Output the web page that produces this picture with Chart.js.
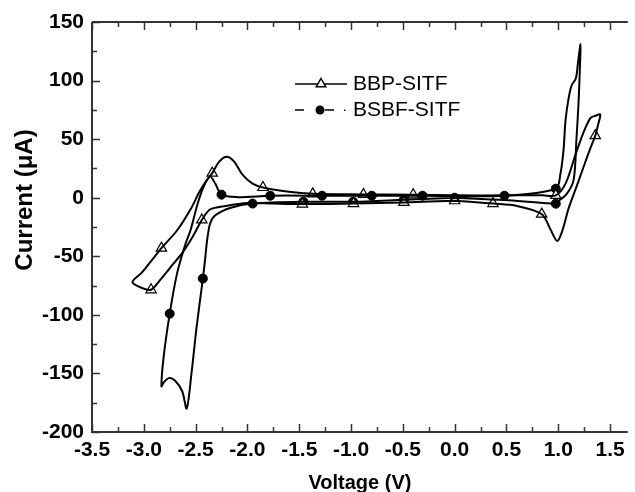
<!DOCTYPE html>
<html>
<head>
<meta charset="utf-8">
<script src="https://cdn.jsdelivr.net/npm/chart.js@4"></script>
<style>
  html, body { margin: 0; padding: 0; background: #fff; }
  #wrap { width: 635px; height: 492px; }
</style>
</head>
<body>
<div id="wrap"><canvas id="cv" width="635" height="492"></canvas></div>
<script>
// ── Data ────────────────────────────────────────────────────

const seriesNames = ['BBP-SITF', 'BSBF-SITF'];

// BBP-SITF cyclic scan (closed loop, starts and ends at 0 V)
const bbpVoltage = [
  0, -0.49, -0.976, -1.47, -1.75, -2.0, -2.21, -2.36, -2.44, -2.52, -2.62, -2.72, -2.84, -2.93,
  -3.02, -3.11, -3.02, -2.92, -2.83, -2.68, -2.54, -2.47, -2.40, -2.34, -2.27, -2.20, -2.13,
  -2.05, -1.95, -1.85, -1.6, -1.37, -0.88, -0.40, 0, 0.5, 0.85, 0.976, 1.07, 1.167, 1.24, 1.31,
  1.36, 1.405, 1.386, 1.357, 1.30, 1.243, 1.17, 1.10, 1.04, 0.99, 0.93, 0.84, 0.6, 0.37, 0.15, 0,
];
const bbpCurrent = [
  -2.6, -4, -5, -5.4, -5, -4.5, -7, -10, -19, -32, -46, -57, -70, -78.6,
  -77, -72, -64, -53, -43, -28, -8.5, 4, 14, 21, 31, 35, 31,
  20, 12, 8.7, 5, 3.3, 2.8, 2.5, 2, 2, 2, 2, 12, 37, 55, 68,
  70, 71, 63, 53, 40, 26, 8, -9, -28, -37, -28, -14, -7, -5, -3.5, -2.6,
];
const bbpMarkVoltage = [-0.49, -0.976, -1.47, -2.44, -2.83, -2.93, -2.34, -1.85, -1.37, -0.88, -0.40, 0, 0.37, 0.84, 0.976, 1.357];
const bbpMarkCurrent = [-4, -5, -5.4, -19, -43, -78.6, 21, 8.7, 3.3, 2.8, 2.5, -2.6, -5, -14, 2, 53];

// BSBF-SITF cyclic scan
const bsbfVoltage = [
  0, -0.49, -0.98, -1.46, -1.95, -2.16, -2.31, -2.36, -2.39, -2.41, -2.43, -2.49, -2.54, -2.586,
  -2.63, -2.70, -2.76, -2.81, -2.83, -2.81, -2.75, -2.68, -2.60, -2.55, -2.48, -2.42, -2.36,
  -2.31, -2.25, -2.1, -1.78, -1.28, -0.80, -0.31, 0.48, 0.976, 1.02, 1.05, 1.07, 1.10, 1.13,
  1.17, 1.19, 1.215, 1.21, 1.195, 1.176, 1.148, 1.08, 1.0, 0.976, 0.48, 0,
];
const bsbfCurrent = [
  0, -1.7, -3.4, -3.4, -5, -8.5, -15, -22, -37, -54, -69, -110, -150, -180,
  -165, -156, -154, -158, -161, -137, -99, -65, -40, -28, -5, 10, 18,
  12, 2.6, 0.5, 1.7, 1.7, 1.7, 1.7, 1.7, 7.7, 20, 40, 66, 85, 96,
  102, 115, 131, 114, 80, 51, 15, 3, -3, -5.1, -2, 0,
];
const bsbfMarkVoltage = [0, -0.49, -0.98, -1.46, -1.95, -2.43, -2.75, -2.25, -1.78, -1.28, -0.80, -0.31, 0.48, 0.976, 0.976];
const bsbfMarkCurrent = [0, -1.7, -3.4, -3.4, -5, -69, -99, 2.6, 1.7, 1.7, 1.7, 1.7, 1.7, 7.7, -5.1];

const xTicks = [-3.5, -3.0, -2.5, -2.0, -1.5, -1.0, -0.5, 0.0, 0.5, 1.0, 1.5];
const yTicks = [-200, -150, -100, -50, 0, 50, 100, 150];
const xMinorStep = 0.25;
const yMinorStep = 25;

// ── Helpers ─────────────────────────────────────────────────

const toPoints = (xs, ys) => xs.map((x, i) => ({ x, y: ys[i] }));
const FONT = "'Liberation Sans', Arial, Helvetica, sans-serif";
const AXIS = '#333';

// Inside tick marks + frame, like the original Origin plot
const frameTicks = {
  id: 'frameTicks',
  afterDraw(chart) {
    const { ctx, chartArea: a, scales: { x, y } } = chart;
    ctx.save();
    ctx.strokeStyle = AXIS;
    ctx.lineWidth = 2;
    ctx.beginPath();
    ctx.moveTo(a.left, a.top); ctx.lineTo(a.right, a.top);
    ctx.moveTo(a.left, a.top); ctx.lineTo(a.left, a.bottom);
    ctx.lineTo(a.right, a.bottom);
    ctx.stroke();

    ctx.lineWidth = 1.5;
    ctx.beginPath();
    for (let v = xTicks[0]; v <= x.max + 1e-9; v += xMinorStep) {
      const px = Math.round(x.getPixelForValue(v)) + 0.5;
      const major = xTicks.some(t => Math.abs(t - v) < 1e-6);
      const len = major ? 8 : 5;
      ctx.moveTo(px, a.bottom); ctx.lineTo(px, a.bottom - len);
      ctx.moveTo(px, a.top); ctx.lineTo(px, a.top + len);
    }
    for (let v = yTicks[0]; v <= yTicks[yTicks.length - 1] + 1e-9; v += yMinorStep) {
      const py = Math.round(y.getPixelForValue(v)) + 0.5;
      const major = yTicks.includes(v);
      const len = major ? 8 : 5;
      ctx.moveTo(a.left, py); ctx.lineTo(a.left + len, py);
    }
    ctx.stroke();

    // y-axis title sits a bit above the plot centre in the original
    ctx.fillStyle = '#000';
    ctx.font = `bold 24px ${FONT}`;
    ctx.textAlign = 'center';
    ctx.textBaseline = 'middle';
    ctx.translate(25, 200);
    ctx.rotate(-Math.PI / 2);
    ctx.fillText('Current (μA)', 0, 0);
    ctx.restore();
  },
};

// Legend drawn by hand: line + marker sample, second one dashed
const cvLegend = {
  id: 'cvLegend',
  afterDraw(chart) {
    const ctx = chart.ctx;
    ctx.save();
    ctx.strokeStyle = '#000';
    ctx.fillStyle = '#000';
    ctx.lineWidth = 1.5;

    // row 1: solid line with open triangle
    let yy = 84;
    ctx.beginPath();
    ctx.moveTo(295, yy); ctx.lineTo(347, yy);
    ctx.stroke();
    const r = 5.5;
    ctx.beginPath();
    ctx.moveTo(321, yy - r);
    ctx.lineTo(321 + r * 0.866, yy + r * 0.5);
    ctx.lineTo(321 - r * 0.866, yy + r * 0.5);
    ctx.closePath();
    ctx.fillStyle = '#fff';
    ctx.fill();
    ctx.stroke();

    // row 2: dashed line with filled circle
    yy = 110;
    ctx.fillStyle = '#000';
    ctx.beginPath();
    ctx.moveTo(295, yy); ctx.lineTo(304, yy);
    ctx.moveTo(325, yy); ctx.lineTo(334, yy);
    ctx.stroke();
    ctx.beginPath();
    ctx.arc(320, yy, 4.5, 0, Math.PI * 2);
    ctx.fill();
    ctx.fillRect(344, yy - 0.5, 1.5, 1.5);

    ctx.font = `21px ${FONT}`;
    ctx.textBaseline = 'middle';
    ctx.textAlign = 'left';
    ctx.fillText(seriesNames[0], 353, 84);
    ctx.fillText(seriesNames[1], 353, 110);
    ctx.restore();
  },
};

// ── Chart ───────────────────────────────────────────────────

const lineStyle = {
  showLine: true,
  borderColor: '#000',
  borderWidth: 2,
  pointRadius: 0,
  tension: 0.3,
  fill: false,
};

new Chart(document.getElementById('cv'), {
  type: 'scatter',
  data: {
    datasets: [
      { label: seriesNames[0], data: toPoints(bbpVoltage, bbpCurrent), ...lineStyle },
      { label: seriesNames[1], data: toPoints(bsbfVoltage, bsbfCurrent), ...lineStyle },
      {
        label: seriesNames[0] + ' markers',
        data: toPoints(bbpMarkVoltage, bbpMarkCurrent),
        showLine: false,
        pointStyle: 'triangle',
        pointRadius: 6,
        pointBackgroundColor: '#fff',
        pointBorderColor: '#000',
        pointBorderWidth: 1.2,
      },
      {
        label: seriesNames[1] + ' markers',
        data: toPoints(bsbfMarkVoltage, bsbfMarkCurrent),
        showLine: false,
        pointStyle: 'circle',
        pointRadius: 4.5,
        pointBackgroundColor: '#000',
        pointBorderColor: '#000',
        pointBorderWidth: 1,
      },
    ],
  },
  options: {
    responsive: false,
    animation: false,
    layout: { padding: { top: 22, right: 0, left: 0, bottom: 0 } },
    plugins: {
      legend: { display: false },
      tooltip: { enabled: false },
    },
    scales: {
      x: {
        type: 'linear',
        min: -3.5,
        max: 1.671,
        afterBuildTicks: s => { s.ticks = xTicks.map(v => ({ value: v })); },
        afterFit: s => { s.height = 60; },
        grid: { display: false, drawTicks: false },
        border: { display: false },
        ticks: {
          padding: 6,
          color: '#000',
          font: { family: FONT, size: 21, weight: 'bold' },
          callback: v => v.toFixed(1),
          maxRotation: 0,
        },
        title: {
          display: true,
          text: 'Voltage (V)',
          color: '#000',
          font: { family: FONT, size: 20, weight: 'bold', lineHeight: 1.2 },
          padding: { top: 0, bottom: -3 },
        },
      },
      y: {
        type: 'linear',
        min: -200,
        max: 150,
        afterBuildTicks: s => { s.ticks = yTicks.map(v => ({ value: v })); },
        afterFit: s => { s.width = 92; },
        grid: { display: false, drawTicks: false },
        border: { display: false },
        ticks: {
          padding: 8,
          color: '#000',
          font: { family: FONT, size: 21, weight: 'bold' },
        },
        title: { display: false },
      },
    },
  },
  plugins: [frameTicks, cvLegend],
});
</script>
</body>
</html>
